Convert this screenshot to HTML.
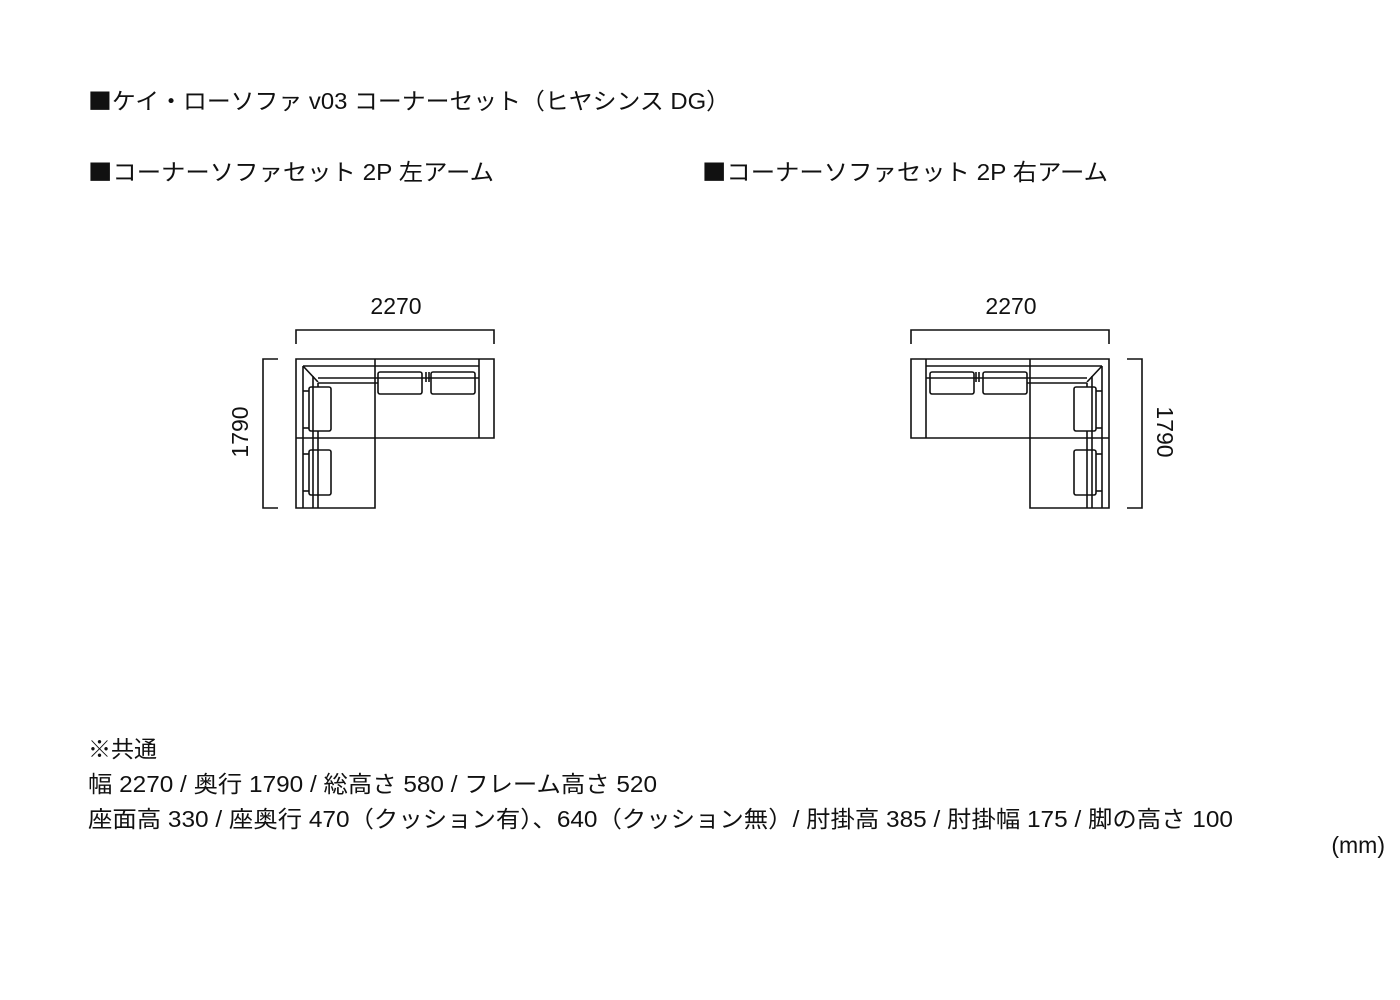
<!DOCTYPE html>
<html><head><meta charset="utf-8"><style>
html,body{margin:0;padding:0;background:#fff;}
svg{display:block;}
text{font-family:"Liberation Sans","Noto Sans CJK JP",sans-serif;fill:#111;font-size:23px;}
.sq{font-family:"Noto Sans CJK JP",sans-serif;}
</style></head><body>
<svg width="1400" height="1000" viewBox="0 0 1400 1000" xmlns="http://www.w3.org/2000/svg">
<text x="88" y="109" textLength="642" lengthAdjust="spacingAndGlyphs"><tspan class="sq">■</tspan>ケイ・ローソファ v03 コーナーセット（ヒヤシンス DG）</text>
<text x="88" y="180" textLength="406" lengthAdjust="spacingAndGlyphs"><tspan class="sq">■</tspan>コーナーソファセット 2P 左アーム</text>
<text x="702" y="180" textLength="406" lengthAdjust="spacingAndGlyphs"><tspan class="sq">■</tspan>コーナーソファセット 2P 右アーム</text>

<text x="396" y="314" text-anchor="middle">2270</text>
<text x="1011" y="314" text-anchor="middle">2270</text>
<text transform="translate(248,432) rotate(-90)" text-anchor="middle">1790</text>
<text transform="translate(1157,432) rotate(90)" text-anchor="middle">1790</text>

<defs>
<g id="sofa" fill="none" stroke="#111" stroke-width="1.6">
  <polyline points="296,344 296,330 494,330 494,344"/>
  <polyline points="278,359 263,359 263,508 278,508"/>
  <path d="M296,359 H494 V438 H375 V508 H296 Z"/>
  <line x1="375" y1="359" x2="375" y2="438"/>
  <line x1="296" y1="438" x2="375" y2="438"/>
  <line x1="479" y1="359" x2="479" y2="438"/>
  <line x1="303" y1="366" x2="479" y2="366"/>
  <line x1="318" y1="378" x2="479" y2="378"/>
  <line x1="318" y1="383" x2="378" y2="383"/>
  <line x1="303" y1="366" x2="303" y2="508"/>
  <line x1="313" y1="376" x2="313" y2="508"/>
  <line x1="318" y1="383" x2="318" y2="387"/>
  <line x1="318" y1="431" x2="318" y2="508"/>
  <line x1="303" y1="366" x2="318" y2="382"/>
  <rect x="378" y="372" width="44" height="22" rx="2"/>
  <rect x="431" y="372" width="44" height="22" rx="2"/>
  <rect x="309" y="387" width="22" height="44" rx="2"/>
  <rect x="309" y="450" width="22" height="45" rx="2"/>
  <line x1="303" y1="391" x2="309" y2="391"/>
  <line x1="303" y1="428" x2="309" y2="428"/>
  <line x1="303" y1="454" x2="309" y2="454"/>
  <line x1="303" y1="491" x2="309" y2="491"/>
  <line x1="426" y1="372" x2="426" y2="382"/>
  <line x1="429" y1="372" x2="429" y2="382"/>
</g>
</defs>
<use href="#sofa"/>
<use href="#sofa" transform="translate(1405,0) scale(-1,1)"/>

<text x="88" y="757">※共通</text>
<text x="88" y="792" textLength="569" lengthAdjust="spacingAndGlyphs">幅 2270 / 奥行 1790 / 総高さ 580 / フレーム高さ 520</text>
<text x="88" y="827" textLength="1145" lengthAdjust="spacingAndGlyphs">座面高 330 / 座奥行 470（クッション有）、640（クッション無）/ 肘掛高 385 / 肘掛幅 175 / 脚の高さ 100</text>
<text x="1385" y="853" text-anchor="end">(mm)</text>
</svg>
</body></html>
